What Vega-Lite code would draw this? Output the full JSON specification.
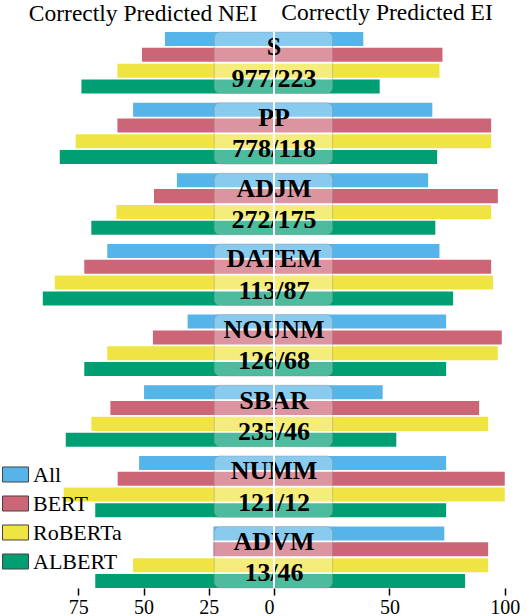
{
  "$schema": "https://vega.github.io/schema/vega-lite/v6.json",
  "padding": 0,
  "spacing": 0,
  "bounds": "flush",
  "background": "white",
  "datasets": {
    "bars": [
      {"group": "S", "model": "All", "nei": 41.8, "ei": 38.7},
      {"group": "S", "model": "BERT", "nei": 50.6, "ei": 73.0},
      {"group": "S", "model": "RoBERTa", "nei": 60.0, "ei": 71.7},
      {"group": "S", "model": "ALBERT", "nei": 73.8, "ei": 45.8},
      {"group": "PP", "model": "All", "nei": 54.0, "ei": 68.6},
      {"group": "PP", "model": "BERT", "nei": 60.0, "ei": 94.1},
      {"group": "PP", "model": "RoBERTa", "nei": 76.0, "ei": 94.1},
      {"group": "PP", "model": "ALBERT", "nei": 82.1, "ei": 70.7},
      {"group": "ADJM", "model": "All", "nei": 37.2, "ei": 66.8},
      {"group": "ADJM", "model": "BERT", "nei": 46.0, "ei": 97.0},
      {"group": "ADJM", "model": "RoBERTa", "nei": 60.4, "ei": 94.1},
      {"group": "ADJM", "model": "ALBERT", "nei": 70.0, "ei": 69.9},
      {"group": "DATEM", "model": "All", "nei": 63.9, "ei": 71.7},
      {"group": "DATEM", "model": "BERT", "nei": 72.7, "ei": 94.1},
      {"group": "DATEM", "model": "RoBERTa", "nei": 84.0, "ei": 94.9},
      {"group": "DATEM", "model": "ALBERT", "nei": 88.6, "ei": 77.6},
      {"group": "NOUNM", "model": "All", "nei": 33.1, "ei": 74.6},
      {"group": "NOUNM", "model": "BERT", "nei": 46.4, "ei": 98.7},
      {"group": "NOUNM", "model": "RoBERTa", "nei": 63.9, "ei": 97.0},
      {"group": "NOUNM", "model": "ALBERT", "nei": 72.7, "ei": 74.6},
      {"group": "SBAR", "model": "All", "nei": 49.8, "ei": 47.1},
      {"group": "SBAR", "model": "BERT", "nei": 62.7, "ei": 88.9},
      {"group": "SBAR", "model": "RoBERTa", "nei": 70.0, "ei": 92.8},
      {"group": "SBAR", "model": "ALBERT", "nei": 79.8, "ei": 53.0},
      {"group": "NUMM", "model": "All", "nei": 51.7, "ei": 74.6},
      {"group": "NUMM", "model": "BERT", "nei": 59.9, "ei": 100},
      {"group": "NUMM", "model": "RoBERTa", "nei": 80.6, "ei": 100},
      {"group": "NUMM", "model": "ALBERT", "nei": 68.5, "ei": 74.6},
      {"group": "ADVM", "model": "All", "nei": 23.2, "ei": 73.8},
      {"group": "ADVM", "model": "BERT", "nei": 23.2, "ei": 92.8},
      {"group": "ADVM", "model": "RoBERTa", "nei": 54.0, "ei": 92.8},
      {"group": "ADVM", "model": "ALBERT", "nei": 68.5, "ei": 82.8}
    ],
    "groups": [
      {"group": "S", "counts": "977/223"},
      {"group": "PP", "counts": "778/118"},
      {"group": "ADJM", "counts": "272/175"},
      {"group": "DATEM", "counts": "113/87"},
      {"group": "NOUNM", "counts": "126/68"},
      {"group": "SBAR", "counts": "235/46"},
      {"group": "NUMM", "counts": "121/12"},
      {"group": "ADVM", "counts": "13/46"}
    ]
  },
  "config": {
    "view": {"stroke": null},
    "font": "Liberation Serif",
    "title": {"font": "Liberation Serif", "fontSize": 23.5, "fontWeight": "normal", "color": "black", "offset": 7},
    "axis": {
      "labelFont": "Liberation Serif",
      "labelFontSize": 20,
      "labelColor": "black",
      "domain": false,
      "grid": false,
      "ticks": true,
      "tickColor": "black",
      "tickWidth": 1.5,
      "tickSize": 7,
      "labelPadding": 2,
      "title": null
    },
    "legend": {
      "orient": "none",
      "legendX": 2,
      "legendY": 429,
      "title": null,
      "symbolType": "M-1,-0.577H1V0.577H-1Z",
      "symbolSize": 676,
      "symbolStrokeColor": "#444",
      "symbolStrokeWidth": 1,
      "labelFont": "Liberation Serif",
      "labelFontSize": 22,
      "labelColor": "black",
      "labelOffset": 4,
      "rowPadding": 4,
      "padding": 0
    }
  },
  "hconcat": [
    {
      "width": 274,
      "height": 556,
      "title": {"text": "Correctly Predicted NEI", "dx": 6},
      "data": {"name": "bars"},
      "mark": {"type": "bar"},
      "encoding": {
        "y": {
          "field": "group",
          "type": "nominal",
          "axis": null,
          "scale": {"domain": ["S", "PP", "ADJM", "DATEM", "NOUNM", "SBAR", "NUMM", "ADVM"], "paddingInner": 0.13, "paddingOuter": 0}
        },
        "yOffset": {
          "field": "model",
          "type": "nominal",
          "scale": {"domain": ["All", "BERT", "RoBERTa", "ALBERT"], "paddingInner": 0.114, "paddingOuter": 0}
        },
        "x": {
          "field": "nei",
          "type": "quantitative",
          "scale": {"domain": [0, 105], "reverse": true, "nice": false, "zero": true},
          "axis": {"values": [0, 25, 50, 75]}
        },
        "color": {
          "field": "model",
          "type": "nominal",
          "scale": {"domain": ["All", "BERT", "RoBERTa", "ALBERT"], "range": ["#56B4E9", "#CC6677", "#F0E442", "#009E73"]}
        }
      }
    },
    {
      "width": 252,
      "height": 556,
      "title": {"text": "Correctly Predicted EI", "dx": -13},
      "layer": [
        {
          "data": {"name": "bars"},
          "mark": {"type": "bar"},
          "encoding": {
            "y": {
              "field": "group",
              "type": "nominal",
              "axis": null,
              "scale": {"domain": ["S", "PP", "ADJM", "DATEM", "NOUNM", "SBAR", "NUMM", "ADVM"], "paddingInner": 0.13, "paddingOuter": 0}
            },
            "yOffset": {
              "field": "model",
              "type": "nominal",
              "scale": {"domain": ["All", "BERT", "RoBERTa", "ALBERT"], "paddingInner": 0.114, "paddingOuter": 0}
            },
            "x": {
              "field": "ei",
              "type": "quantitative",
              "scale": {"domain": [0, 109.2], "nice": false, "zero": true},
              "axis": {"values": [50, 100]}
            },
            "color": {
              "field": "model",
              "type": "nominal",
              "scale": {"domain": ["All", "BERT", "RoBERTa", "ALBERT"], "range": ["#56B4E9", "#CC6677", "#F0E442", "#009E73"]}
            }
          }
        },
        {
          "data": {"name": "groups"},
          "mark": {"type": "rect", "fill": "white", "fillOpacity": 0.3, "stroke": "#888", "strokeOpacity": 0.35, "strokeWidth": 1, "cornerRadius": 6},
          "encoding": {
            "y": {"field": "group", "type": "nominal", "axis": null},
            "x": {"datum": -25.9},
            "x2": {"datum": 25.4}
          }
        },
        {
          "data": {"name": "groups"},
          "mark": {"type": "text", "font": "Liberation Serif", "fontWeight": "bold", "fontSize": 26, "baseline": "middle", "align": "center", "color": "black"},
          "encoding": {
            "y": {"field": "group", "type": "nominal", "axis": null, "bandPosition": 0.25},
            "x": {"datum": 0},
            "text": {"field": "group"}
          }
        },
        {
          "data": {"name": "groups"},
          "mark": {"type": "text", "font": "Liberation Serif", "fontWeight": "bold", "fontSize": 26, "baseline": "middle", "align": "center", "color": "black"},
          "encoding": {
            "y": {"field": "group", "type": "nominal", "axis": null, "bandPosition": 0.76},
            "x": {"datum": 0},
            "text": {"field": "counts"}
          }
        },
        {
          "data": {"name": "groups"},
          "mark": {"type": "rule", "color": "white", "strokeWidth": 1.5},
          "encoding": {
            "x": {"datum": 0}
          }
        }
      ]
    }
  ]
}
